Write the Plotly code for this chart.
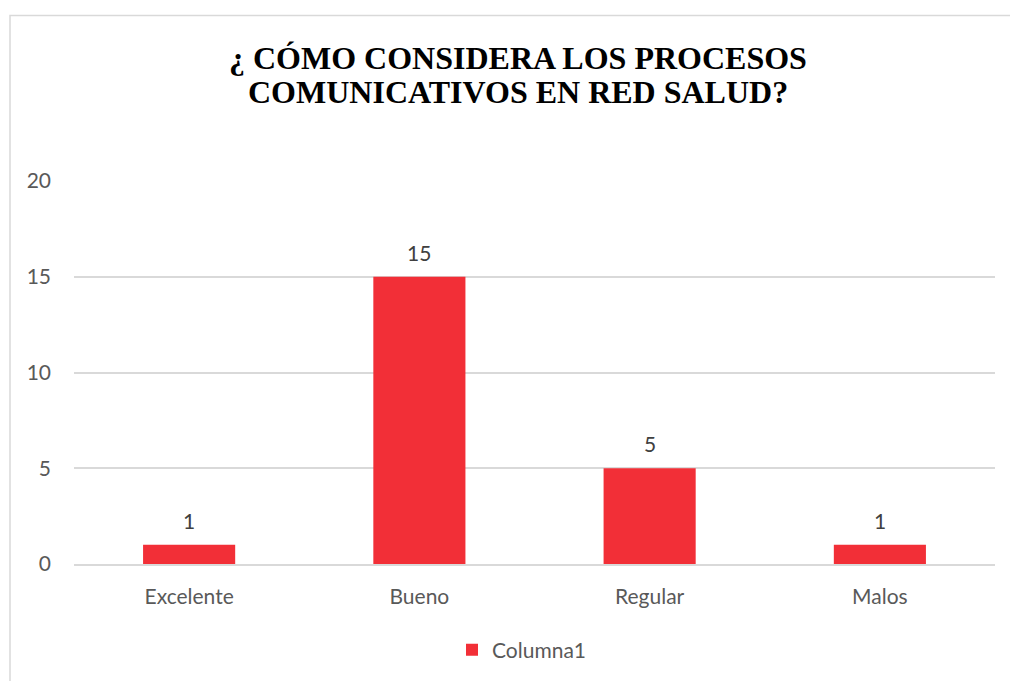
import plotly.graph_objects as go

categories = ["Excelente", "Bueno", "Regular", "Malos"]
values = [1, 15, 5, 1]
series_name = "Columna1"
y_ticks = [0, 5, 10, 15, 20]
title_lines = ["¿ CÓMO CONSIDERA LOS PROCESOS", "COMUNICATIVOS EN RED SALUD?"]

W, H = 1010, 681
ml, mr, mt, mb = 74, 15, 181, 116
pw, ph = W - ml - mr, H - mt - mb

def px(x):
    return (x - ml) / pw

def py(y):
    return (H - mb - y) / ph

FONT = "Lato, sans-serif"

fig = go.Figure()
fig.add_trace(go.Bar(
    x=categories, y=values, name=series_name,
    marker=dict(color="#F22F37", line=dict(width=0)),
))

for c, v in zip(categories, values):
    fig.add_annotation(
        x=c, y=v, text=str(v), showarrow=False,
        yanchor="bottom", yshift=10,
        font=dict(family=FONT, size=21, color="#404040"),
    )

for line, yc in zip(title_lines, [57.5, 92]):
    fig.add_annotation(
        xref="paper", yref="paper", x=px(518), y=py(yc),
        xanchor="center", yanchor="middle", showarrow=False,
        text="<b>" + line + "</b>",
        font=dict(family="Liberation Serif, Times New Roman, serif", size=32, color="black"),
    )

fig.update_layout(
    width=W, height=H,
    margin=dict(l=ml, r=mr, t=mt, b=mb),
    paper_bgcolor="white", plot_bgcolor="white",
    bargap=0.6,
    showlegend=True,
    legend=dict(
        orientation="h", x=px(452), xanchor="left",
        y=py(650), yanchor="middle",
        font=dict(family=FONT, size=21, color="#595959"),
        itemwidth=30,
    ),
    xaxis=dict(
        showgrid=False, showline=True, linecolor="#D9D9D9", linewidth=1.5,
        ticks="", tickfont=dict(family=FONT, size=21, color="#595959"),
        ticklabelstandoff=13,
    ),
    yaxis=dict(
        range=[0, 20], tickvals=y_ticks, showgrid=True, gridcolor="#D9D9D9", gridwidth=1.5,
        zeroline=False, showline=False, ticks="",
        tickfont=dict(family=FONT, size=21, color="#595959"),
        ticklabelstandoff=22,
    ),
    shapes=[dict(
        type="rect", xref="paper", yref="paper",
        x0=px(10), x1=px(1015), y0=py(690), y1=py(15),
        line=dict(color="#D9D9D9", width=1.5), fillcolor="rgba(0,0,0,0)", layer="below",
    )],
)

fig.write_html("out.html", config={"displayModeBar": False})

with open("out.html", "r", encoding="utf-8") as f:
    html = f.read()
html = html.replace("<body>", '<body style="margin:0;padding:0;overflow:hidden">', 1)
with open("out.html", "w", encoding="utf-8") as f:
    f.write(html)
